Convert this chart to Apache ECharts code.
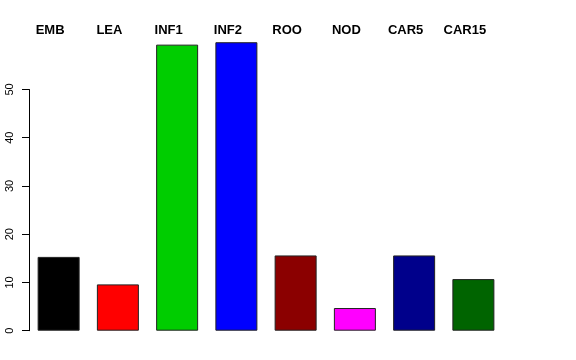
<!DOCTYPE html>
<html>
<head>
<meta charset="utf-8">
<script src="https://cdn.jsdelivr.net/npm/echarts@6/dist/echarts.min.js"></script>
<style>html,body{margin:0;padding:0;background:#fff}#c{width:576px;height:360px}</style>
</head>
<body>
<div id="c"></div>
<script>
var categories = ['EMB', 'LEA', 'INF1', 'INF2', 'ROO', 'NOD', 'CAR5', 'CAR15'];
var values = [15.3, 9.6, 59.3, 59.8, 15.6, 4.7, 15.6, 10.7];
var colors = ['#000000', '#FF0000', '#00CD00', '#0000FF', '#8B0000', '#FF00FF', '#00008B', '#006400'];
var yTicks = [0, 10, 20, 30, 40, 50];

var chart = echarts.init(document.getElementById('c'), null, {renderer: 'canvas'});
chart.setOption({
  animation: false,
  backgroundColor: '#ffffff',
  grid: {left: 29, right: 73, top: 89.5, bottom: 29.3, containLabel: false},
  xAxis: {
    type: 'category',
    position: 'top',
    data: categories,
    axisLine: {show: false},
    axisTick: {show: false},
    axisLabel: {
      margin: 53,
      fontFamily: 'Liberation Sans, Arial, Helvetica, sans-serif',
      fontWeight: 'bold',
      fontSize: 13,
      color: '#000',
      padding: [0, 17, 0, 0]
    }
  },
  yAxis: {
    type: 'value',
    min: yTicks[0],
    max: yTicks[yTicks.length - 1],
    interval: 10,
    splitLine: {show: false},
    axisLine: {show: true, lineStyle: {color: '#000', width: 1}},
    axisTick: {show: true, length: 7, lineStyle: {color: '#000'}},
    axisLabel: {
      rotate: 90,
      margin: 14,
      fontFamily: 'Liberation Sans, Arial, Helvetica, sans-serif',
      fontSize: 11,
      color: '#000'
    }
  },
  series: [{
    type: 'bar',
    clip: false,
    barWidth: 42,
    data: values.map(function (v, i) {
      return {value: v, itemStyle: {color: colors[i], borderColor: '#222', borderWidth: 1}};
    })
  }]
});
</script>
</body>
</html>
